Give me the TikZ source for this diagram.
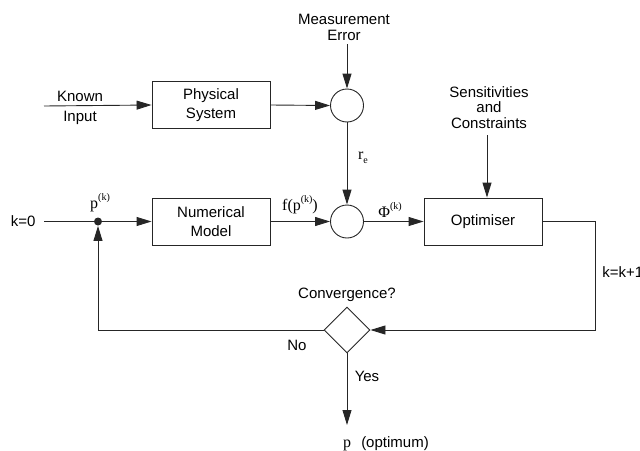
\documentclass[tikz,border=0pt]{standalone}
\usepackage{fontspec}
\setmainfont{Liberation Sans}
\newfontfamily\serifface{Liberation Serif}
\usetikzlibrary{arrows.meta,shapes.geometric}
\newcommand\supk[1]{\raisebox{0.48em}{\fontsize{10}{10}\selectfont #1}}
\begin{document}
\begin{tikzpicture}[x=1pt,y=-1pt,
  line width=0.9pt, draw=black!85,
  arr/.style={-{Triangle[length=15pt,width=9pt]}},
  blk/.style={draw, rectangle, minimum width=118pt, minimum height=47pt, align=center, inner sep=0pt,
    font=\fontsize{15}{19}\selectfont},
  junc/.style={draw, circle, minimum size=33pt, inner sep=0pt},
  txt/.style={inner sep=0pt, align=center, font=\fontsize{15}{15.5}\selectfont},
  mlab/.style={inner sep=0pt, font=\serifface\fontsize{16}{16}\selectfont}]
\useasboundingbox (0,0) rectangle (640,450);

% blocks
\node[blk] (phys) at (211,105) {Physical\\System};
\node[blk] (num) at (211,221.5) {Numerical\\Model};
\node[blk] (opt) at (483,221.5) {Optimiser};
\node[junc] (c1) at (347,105.5) {};
\node[junc] (c2) at (347,221.5) {};
\node[draw, diamond, minimum width=46pt, minimum height=46pt, inner sep=0pt] (dia) at (347,330) {};
\node[circle, fill=black!85, minimum size=8pt, inner sep=0pt] (dot) at (98,221.5) {};

% texts
\node[txt] (meas) at (344,27.5) {Measurement\\Error};
\node[txt] (sens) at (489,107.5) {Sensitivities\\and\\Constraints};
\node[txt] (known) at (80,96) {Known};
\node[txt] (input) at (80,118) {Input};
\node[txt, anchor=east] (k0) at (36,221.5) {k=0};
\node[txt, anchor=west] (kk) at (602,272) {k=k+1};
\node[txt] (conv) at (347,295) {Convergence?};
\node[txt] (no) at (297,345) {No};
\node[txt] (yes) at (367,376) {Yes};
\node[mlab] (pk) at (100,203) {p\supk{(k)}};
\node[mlab] (fpk) at (300,205) {f(p\supk{(k)})};
\node[mlab] (phik) at (390,210) {Φ\supk{(k)}};
\node[mlab] (re) at (363,158) {r\raisebox{-0.25em}{\fontsize{10}{10}\selectfont e}};
\node[mlab, anchor=base] (popt) at (347,447) {p};
\node[txt, anchor=base] (optm) at (395,447) {(optimum)};

% free ends
\coordinate (kin) at (44,106);
\coordinate (k0in) at (44,221.5);
\coordinate (meastop) at (347,44);
\coordinate (senstop) at (487,135);
\coordinate (r1) at (595,221.5);
\coordinate (r2) at (595,330);
\coordinate (l1) at (98,330);
\coordinate (out) at (347,425);

% connectors
\draw[arr] (kin) -- (phys.west);
\draw[arr] (phys.east) -- (c1.west);
\draw[arr] (meastop) -- (c1.north);
\draw[arr] (c1.south) -- (c2.north);
\draw (k0in) -- (dot);
\draw[arr] (dot) -- (num.west);
\draw[arr] (num.east) -- (c2.west);
\draw[arr] (c2.east) -- (opt.west);
\draw[arr] (senstop) -- (senstop |- opt.north);
\draw[arr] (opt.east) -- (r1) -- (r2) -- (dia.east);
\draw[arr] (dia.west) -- (l1) -- (dot.south);
\draw[arr] (dia.south) -- (out);
\end{tikzpicture}
\end{document}
